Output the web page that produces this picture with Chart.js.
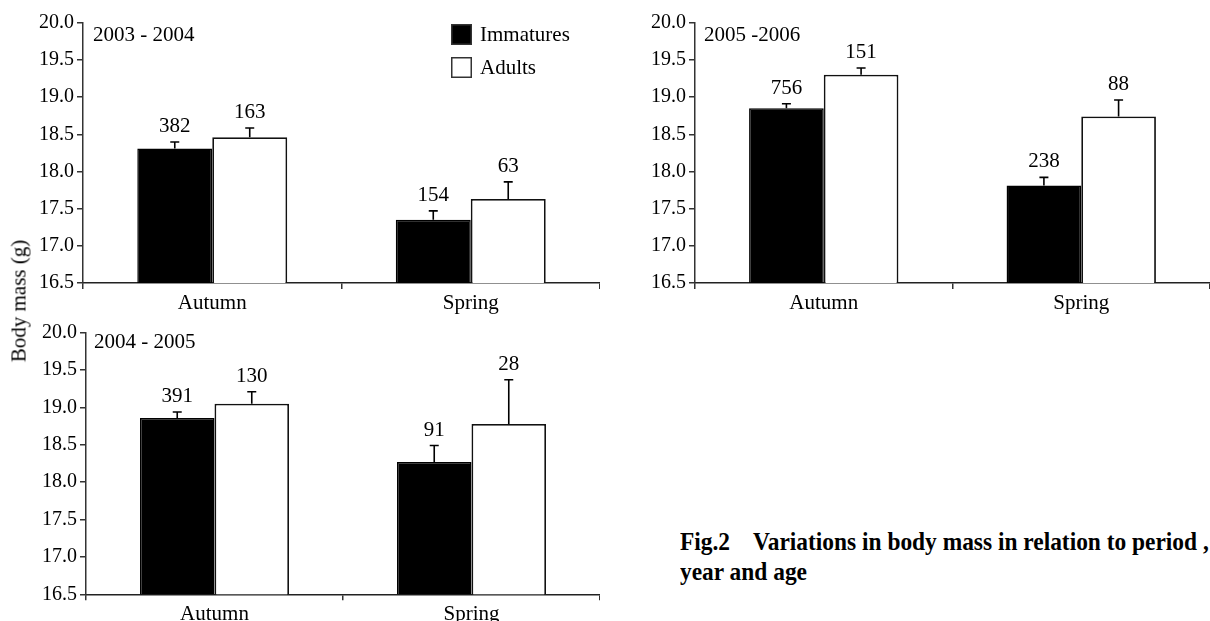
<!DOCTYPE html>
<html>
<head>
<meta charset="utf-8">
<script src="https://cdn.jsdelivr.net/npm/chart.js@4.4.1/dist/chart.umd.min.js"></script>
<style>
  html, body { margin: 0; padding: 0; background: #fff; }
  body { width: 1210px; height: 621px; position: relative; overflow: hidden; font-family: "Liberation Serif", "DejaVu Serif", serif; }
  canvas { position: absolute; }
  #ytitle { position: absolute; left: 19px; top: 301px; transform: translate(-50%, -50%) rotate(-90deg); font-size: 21px; white-space: nowrap; color: #000; }
  #caption { position: absolute; left: 680px; top: 527px; font-size: 26px; font-weight: bold; line-height: 30px; white-space: pre; color: #000; transform: scaleX(0.9); transform-origin: 0 0; }
</style>
</head>
<body>
<canvas id="c1" width="600" height="330" style="left:0px;top:0px;"></canvas>
<canvas id="c2" width="610" height="330" style="left:600px;top:0px;"></canvas>
<canvas id="c3" width="600" height="311" style="left:0px;top:310px;"></canvas>
<div id="ytitle">Body mass (g)</div>
<div id="caption">Fig.2    Variations in body mass in relation to period ,
year and age</div>
<script>
// ---- data ----
const categories = ['Autumn', 'Spring'];
const seriesNames = ['Immatures', 'Adults'];
const yTickMin = 16.5, yTickMax = 20.0, yTickStep = 0.5;

// 2003 - 2004
const imm0304 = [18.31, 17.35];
const immErr0304 = [0.085, 0.12];
const immN0304 = [382, 154];
const adu0304 = [18.46, 17.63];
const aduErr0304 = [0.125, 0.23];
const aduN0304 = [163, 63];

// 2005 - 2006
const imm0506 = [18.85, 17.81];
const immErr0506 = [0.06, 0.11];
const immN0506 = [756, 238];
const adu0506 = [19.30, 18.74];
const aduErr0506 = [0.09, 0.22];
const aduN0506 = [151, 88];

// 2004 - 2005
const imm0405 = [18.86, 18.27];
const immErr0405 = [0.08, 0.22];
const immN0405 = [391, 91];
const adu0405 = [19.05, 18.78];
const aduErr0405 = [0.16, 0.59];
const aduN0405 = [130, 28];

const FONT = '"Liberation Serif", "DejaVu Serif", serif';

const annotPlugin = {
  id: 'annot',
  afterDatasetsDraw(chart, args, opts) {
    const ctx = chart.ctx;
    const ys = chart.scales.y;
    chart.data.datasets.forEach((ds, di) => {
      const meta = chart.getDatasetMeta(di);
      meta.data.forEach((bar, i) => {
        const v = ds.data[i], e = ds.errors[i];
        const yBar = ys.getPixelForValue(v);
        const yTop = ys.getPixelForValue(v + e);
        ctx.save();
        ctx.strokeStyle = '#000';
        ctx.lineWidth = 1.6;
        ctx.beginPath();
        ctx.moveTo(bar.x, yBar);
        ctx.lineTo(bar.x, yTop);
        ctx.moveTo(bar.x - 4.5, yTop);
        ctx.lineTo(bar.x + 4.5, yTop);
        ctx.stroke();
        ctx.fillStyle = '#000';
        ctx.font = '21px ' + FONT;
        ctx.textAlign = 'center';
        ctx.textBaseline = 'alphabetic';
        ctx.fillText(String(ds.counts[i]), bar.x, yTop - 10);
        ctx.restore();
      });
    });
    const ca = chart.chartArea;
    ctx.save();
    ctx.fillStyle = '#000';
    ctx.font = '21px ' + FONT;
    ctx.textAlign = 'left';
    ctx.textBaseline = 'alphabetic';
    ctx.fillText(opts.year, ca.left + opts.dx, ca.top + opts.dy);
    if (opts.legend) {
      const lg = opts.legend;
      chart.data.datasets.forEach((ds, di) => {
        const sy = lg.y + di * lg.gap;
        ctx.fillStyle = ds.backgroundColor;
        ctx.fillRect(lg.x, sy, lg.size, lg.size);
        ctx.strokeStyle = '#333';
        ctx.lineWidth = 1.5;
        ctx.strokeRect(lg.x + 0.75, sy + 0.75, lg.size - 1.5, lg.size - 1.5);
        ctx.fillStyle = '#000';
        ctx.textBaseline = 'middle';
        ctx.fillText(ds.label, lg.x + lg.size + 8, sy + lg.size / 2 + 1);
      });
    }
    ctx.restore();
  }
};

function makeChart(id, imm, immErr, immN, adu, aduErr, aduN, yWidth, padTop, xHeight, year, dx, dy, legend) {
  return new Chart(document.getElementById(id), {
    type: 'bar',
    data: {
      labels: categories,
      datasets: [
        { label: seriesNames[0], data: imm, errors: immErr, counts: immN,
          backgroundColor: '#000', borderColor: '#000', borderWidth: 1.5,
          categoryPercentage: 0.58, barPercentage: 1.0 },
        { label: seriesNames[1], data: adu, errors: aduErr, counts: aduN,
          backgroundColor: '#fff', borderColor: '#111', borderWidth: 1.8,
          categoryPercentage: 0.58, barPercentage: 1.0 }
      ]
    },
    options: {
      responsive: false,
      animation: false,
      devicePixelRatio: 1,
      layout: { padding: { top: padTop, left: 0, right: 0, bottom: 0 } },
      plugins: {
        legend: { display: false },
        tooltip: { enabled: false },
        annot: { year: year, dx: dx, dy: dy, legend: legend }
      },
      scales: {
        x: {
          grid: { display: true, drawOnChartArea: false, drawTicks: true, tickLength: 6, color: '#333', lineWidth: 1.5, offset: true },
          border: { display: true, color: '#222', width: 1.5 },
          ticks: { color: '#000', font: { family: FONT, size: 21 }, padding: 2 },
          afterFit: (s) => { s.height = xHeight; }
        },
        y: {
          min: yTickMin, max: yTickMax,
          grid: { display: true, drawOnChartArea: false, drawTicks: true, tickLength: 6, color: '#333', lineWidth: 1.5 },
          border: { display: true, color: '#333', width: 1.5 },
          ticks: { stepSize: yTickStep, color: '#000', font: { family: FONT, size: 20 }, padding: 3,
                   callback: (v) => Number(v).toFixed(1) },
          afterFit: (s) => { s.width = yWidth; }
        }
      }
    },
    plugins: [annotPlugin]
  });
}

makeChart('c1', imm0304, immErr0304, immN0304, adu0304, aduErr0304, aduN0304,
  83, 22.7, 47, '2003 - 2004', 10, 18.5, { x: 451, y: 24, size: 21, gap: 33 });
makeChart('c2', imm0506, immErr0506, immN0506, adu0506, aduErr0506, aduN0506,
  95, 22.7, 47, '2005 -2006', 9, 18.5, null);
makeChart('c3', imm0405, immErr0405, immN0405, adu0405, aduErr0405, aduN0405,
  86, 22.7, 26.7, '2004 - 2005', 8, 15.5, null);
</script>
</body>
</html>
